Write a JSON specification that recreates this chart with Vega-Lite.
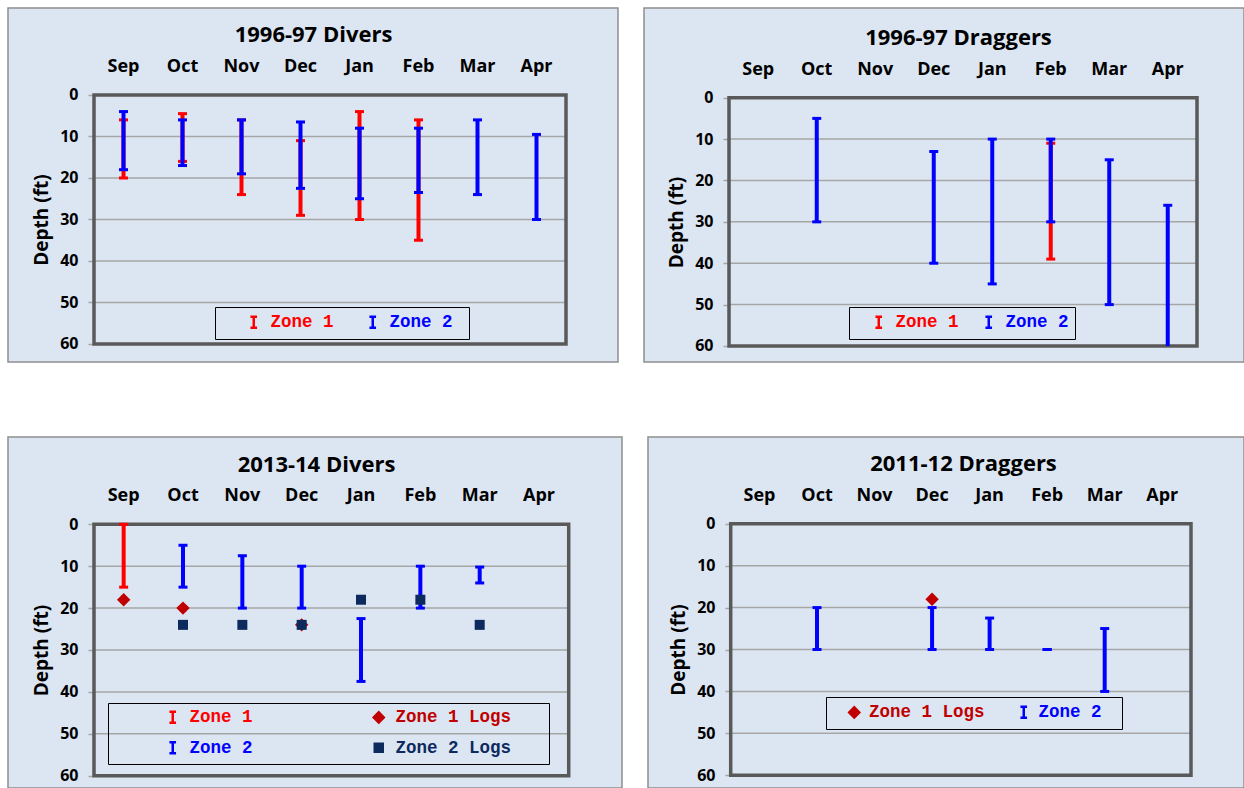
{
  "$schema": "https://vega.github.io/schema/vega-lite/v6.json",
  "background": "white",
  "padding": {"left": 7, "top": 7, "right": 0, "bottom": 0},
  "spacing": 73,
  "resolve": {"scale": {"x": "independent", "y": "independent", "color": "independent"}, "legend": {"color": "independent"}},
  "vconcat": [
    {
      "spacing": 24,
      "resolve": {"scale": {"x": "independent", "y": "independent", "color": "independent"}, "legend": {"color": "independent"}},
      "hconcat": [
        {
          "width": 610, "height": 354,
          "view": {"fill": "#DCE6F2", "stroke": "#8E8E8E", "strokeWidth": 1.5},
          "layer": [
            {
              "data": {"values": [{"depth": 10}, {"depth": 20}, {"depth": 30}, {"depth": 40}, {"depth": 50}]},
              "mark": {"type": "rule", "stroke": "#A6A6A6", "strokeWidth": 1.5},
              "encoding": {
                "x": {"datum": "Sep", "type": "nominal", "bandPosition": 0,
                  "scale": {"domain": [" ","Sep","Oct","Nov","Dec","Jan","Feb","Mar","Apr"], "paddingInner": 0, "paddingOuter": 0.6695, "align": 0.3418},
                  "axis": {"orient": "top", "offset": -58, "values": ["Sep","Oct","Nov","Dec","Jan","Feb","Mar","Apr"], "domain": false, "ticks": false, "grid": false, "labelPadding": 0, "labelBaseline": "middle", "labelAngle": 0, "labelFont": "Open Sans", "labelFontWeight": "bold", "labelFontSize": 18, "labelColor": "#000000", "labelOverlap": false, "title": "1996-97 Divers", "titleFont": "Open Sans", "titleFontWeight": "bold", "titleFontSize": 22, "titleColor": "#000000", "titlePadding": 11, "titleX": 305}},
                "x2": {"datum": "Apr", "bandPosition": 1},
                "y": {"field": "depth", "type": "quantitative",
                  "scale": {"domain": [-20.96, 64.34], "reverse": true, "nice": false, "zero": false},
                  "axis": {"orient": "left", "offset": -86, "values": [0,10,20,30,40,50,60], "domain": false, "ticks": true, "tickSize": 6, "tickColor": "#A6A6A6", "tickWidth": 1.5, "grid": false, "labelPadding": 10, "labelFont": "Open Sans", "labelFontWeight": "bold", "labelFontSize": 16, "labelColor": "#000000", "labelOverlap": false, "title": "Depth (ft)", "titleFont": "Open Sans", "titleFontWeight": "bold", "titleFontSize": 19, "titleColor": "#000000", "titlePadding": 8, "titleY": 211.5}}
              }
            },
            {
              "data": {"values": [{}]},
              "mark": {"type": "rect", "filled": false, "stroke": "#595959", "strokeWidth": 3.5},
              "encoding": {
                "x": {"datum": "Sep", "type": "nominal", "bandPosition": 0},
                "x2": {"datum": "Apr", "bandPosition": 1},
                "y": {"datum": 0, "type": "quantitative"},
                "y2": {"datum": 60}
              }
            },
            {
              "data": {"values": [
                {"month": "Sep", "series": "Zone 1", "lo": 6, "hi": 20},
                {"month": "Oct", "series": "Zone 1", "lo": 4.5, "hi": 16},
                {"month": "Nov", "series": "Zone 1", "lo": 6, "hi": 24},
                {"month": "Dec", "series": "Zone 1", "lo": 11, "hi": 29},
                {"month": "Jan", "series": "Zone 1", "lo": 4, "hi": 30},
                {"month": "Feb", "series": "Zone 1", "lo": 6, "hi": 35},
                {"month": "Sep", "series": "Zone 2", "lo": 4, "hi": 18},
                {"month": "Oct", "series": "Zone 2", "lo": 6, "hi": 17},
                {"month": "Nov", "series": "Zone 2", "lo": 6, "hi": 19},
                {"month": "Dec", "series": "Zone 2", "lo": 6.5, "hi": 22.5},
                {"month": "Jan", "series": "Zone 2", "lo": 8, "hi": 25},
                {"month": "Feb", "series": "Zone 2", "lo": 8, "hi": 23.5},
                {"month": "Mar", "series": "Zone 2", "lo": 6, "hi": 24},
                {"month": "Apr", "series": "Zone 2", "lo": 9.5, "hi": 30}
              ]},
              "encoding": {
                "x": {"field": "month", "type": "nominal"},
                "color": {"field": "series", "type": "nominal",
                  "scale": {"domain": ["Zone 1", "Zone 2"], "range": ["#FF0000", "#0000FF"]},
                  "legend": {"title": "W", "titleOrient": "right", "titleFont": "Liberation Mono", "titleFontSize": 10, "titleOpacity": 0, "titlePadding": 3, "orient": "none", "legendX": 207, "legendY": 299, "direction": "horizontal", "columns": 2, "strokeColor": "#000000", "padding": 6, "symbolOffset": 24, "labelOffset": 8, "columnPadding": 6, "rowPadding": 9, "labelFont": "Liberation Mono", "labelFontSize": 17.5, "labelFontWeight": "bold", "labelLimit": 400, "symbolSize": 121,
                    "encode": {
                      "symbols": {"update": {
                        "shape": {"signal": "indexof(datum.value,'Logs')>=0 ? (datum.value=='Zone 1 Logs' ? 'diamond' : 'square') : 'M-0.6,-1H0.6M0,-1V1M-0.6,1H0.6'"},
                        "fill": {"signal": "datum.value=='Zone 1 Logs' ? '#C00000' : datum.value=='Zone 2 Logs' ? '#0D2A5E' : 'transparent'"},
                        "stroke": {"signal": "datum.value=='Zone 1' ? '#FF0000' : datum.value=='Zone 2' ? '#0000FF' : 'transparent'"},
                        "strokeWidth": {"value": 2.5},
                        "size": {"signal": "datum.value=='Zone 1 Logs' ? 100 : datum.value=='Zone 2 Logs' ? 64 : 121"},
                        "opacity": {"value": 1}
                      }},
                      "labels": {"update": {"fill": {"signal": "datum.value=='Zone 1' ? '#FF0000' : datum.value=='Zone 2' ? '#0000FF' : datum.value=='Zone 1 Logs' ? '#C00000' : '#0D2A5E'"}}}
                    }}
                }
              },
              "layer": [
                {"transform": [{"filter": "datum.series == 'Zone 1'"}], "mark": {"type": "rule", "strokeWidth": 4}, "encoding": {"y": {"field": "lo", "type": "quantitative"}, "y2": {"field": "hi"}}},
                {"transform": [{"filter": "datum.series == 'Zone 1'"}], "mark": {"type": "tick", "thickness": 3, "size": 9, "opacity": 1}, "encoding": {"y": {"field": "lo", "type": "quantitative"}}},
                {"transform": [{"filter": "datum.series == 'Zone 1' && datum.hi < 60"}], "mark": {"type": "tick", "thickness": 3, "size": 9, "opacity": 1}, "encoding": {"y": {"field": "hi", "type": "quantitative"}}},
                {"transform": [{"filter": "datum.series == 'Zone 2'"}], "mark": {"type": "rule", "strokeWidth": 4}, "encoding": {"y": {"field": "lo", "type": "quantitative"}, "y2": {"field": "hi"}}},
                {"transform": [{"filter": "datum.series == 'Zone 2'"}], "mark": {"type": "tick", "thickness": 3, "size": 9, "opacity": 1}, "encoding": {"y": {"field": "lo", "type": "quantitative"}}},
                {"transform": [{"filter": "datum.series == 'Zone 2' && datum.hi < 60"}], "mark": {"type": "tick", "thickness": 3, "size": 9, "opacity": 1}, "encoding": {"y": {"field": "hi", "type": "quantitative"}}}
              ]
            }
          ]
        },
        {
          "width": 600, "height": 354,
          "view": {"fill": "#DCE6F2", "stroke": "#8E8E8E", "strokeWidth": 1.5},
          "layer": [
            {
              "data": {"values": [{"depth": 10}, {"depth": 20}, {"depth": 30}, {"depth": 40}, {"depth": 50}]},
              "mark": {"type": "rule", "stroke": "#A6A6A6", "strokeWidth": 1.5},
              "encoding": {
                "x": {"datum": "Sep", "type": "nominal", "bandPosition": 0,
                  "scale": {"domain": [" ","Sep","Oct","Nov","Dec","Jan","Feb","Mar","Apr"], "paddingInner": 0, "paddingOuter": 0.6282, "align": 0.3605},
                  "axis": {"orient": "top", "offset": -61, "values": ["Sep","Oct","Nov","Dec","Jan","Feb","Mar","Apr"], "domain": false, "ticks": false, "grid": false, "labelPadding": 0, "labelBaseline": "middle", "labelAngle": 0, "labelFont": "Open Sans", "labelFontWeight": "bold", "labelFontSize": 18, "labelColor": "#000000", "labelOverlap": false, "title": "1996-97 Draggers", "titleFont": "Open Sans", "titleFontWeight": "bold", "titleFontSize": 22, "titleColor": "#000000", "titlePadding": 11, "titleX": 314}},
                "x2": {"datum": "Apr", "bandPosition": 1},
                "y": {"field": "depth", "type": "quantitative",
                  "scale": {"domain": [-21.68, 63.87], "reverse": true, "nice": false, "zero": false},
                  "axis": {"orient": "left", "offset": -85, "values": [0,10,20,30,40,50,60], "domain": false, "ticks": true, "tickSize": 6, "tickColor": "#A6A6A6", "tickWidth": 1.5, "grid": false, "labelPadding": 10, "labelFont": "Open Sans", "labelFontWeight": "bold", "labelFontSize": 16, "labelColor": "#000000", "labelOverlap": false, "title": "Depth (ft)", "titleFont": "Open Sans", "titleFontWeight": "bold", "titleFontSize": 19, "titleColor": "#000000", "titlePadding": 8, "titleY": 214}}
              }
            },
            {
              "data": {"values": [{}]},
              "mark": {"type": "rect", "filled": false, "stroke": "#595959", "strokeWidth": 3.5},
              "encoding": {
                "x": {"datum": "Sep", "type": "nominal", "bandPosition": 0},
                "x2": {"datum": "Apr", "bandPosition": 1},
                "y": {"datum": 0, "type": "quantitative"},
                "y2": {"datum": 60}
              }
            },
            {
              "data": {"values": [
                {"month": "Feb", "series": "Zone 1", "lo": 11, "hi": 39},
                {"month": "Oct", "series": "Zone 2", "lo": 5, "hi": 30},
                {"month": "Dec", "series": "Zone 2", "lo": 13, "hi": 40},
                {"month": "Jan", "series": "Zone 2", "lo": 10, "hi": 45},
                {"month": "Feb", "series": "Zone 2", "lo": 10, "hi": 30},
                {"month": "Mar", "series": "Zone 2", "lo": 15, "hi": 50},
                {"month": "Apr", "series": "Zone 2", "lo": 26, "hi": 60}
              ]},
              "encoding": {
                "x": {"field": "month", "type": "nominal"},
                "color": {"field": "series", "type": "nominal",
                  "scale": {"domain": ["Zone 1", "Zone 2"], "range": ["#FF0000", "#0000FF"]},
                  "legend": {"title": null, "orient": "none", "legendX": 205, "legendY": 299, "direction": "horizontal", "columns": 2, "strokeColor": "#000000", "padding": 6, "symbolOffset": 15, "labelOffset": 8, "columnPadding": 6, "rowPadding": 9, "labelFont": "Liberation Mono", "labelFontSize": 17.5, "labelFontWeight": "bold", "labelLimit": 400, "symbolSize": 121,
                    "encode": {
                      "symbols": {"update": {
                        "shape": {"signal": "indexof(datum.value,'Logs')>=0 ? (datum.value=='Zone 1 Logs' ? 'diamond' : 'square') : 'M-0.6,-1H0.6M0,-1V1M-0.6,1H0.6'"},
                        "fill": {"signal": "datum.value=='Zone 1 Logs' ? '#C00000' : datum.value=='Zone 2 Logs' ? '#0D2A5E' : 'transparent'"},
                        "stroke": {"signal": "datum.value=='Zone 1' ? '#FF0000' : datum.value=='Zone 2' ? '#0000FF' : 'transparent'"},
                        "strokeWidth": {"value": 2.5},
                        "size": {"signal": "datum.value=='Zone 1 Logs' ? 100 : datum.value=='Zone 2 Logs' ? 64 : 121"},
                        "opacity": {"value": 1}
                      }},
                      "labels": {"update": {"fill": {"signal": "datum.value=='Zone 1' ? '#FF0000' : datum.value=='Zone 2' ? '#0000FF' : datum.value=='Zone 1 Logs' ? '#C00000' : '#0D2A5E'"}}}
                    }}
                }
              },
              "layer": [
                {"transform": [{"filter": "datum.series == 'Zone 1'"}], "mark": {"type": "rule", "strokeWidth": 4}, "encoding": {"y": {"field": "lo", "type": "quantitative"}, "y2": {"field": "hi"}}},
                {"transform": [{"filter": "datum.series == 'Zone 1'"}], "mark": {"type": "tick", "thickness": 3, "size": 9, "opacity": 1}, "encoding": {"y": {"field": "lo", "type": "quantitative"}}},
                {"transform": [{"filter": "datum.series == 'Zone 1' && datum.hi < 60"}], "mark": {"type": "tick", "thickness": 3, "size": 9, "opacity": 1}, "encoding": {"y": {"field": "hi", "type": "quantitative"}}},
                {"transform": [{"filter": "datum.series == 'Zone 2'"}], "mark": {"type": "rule", "strokeWidth": 4}, "encoding": {"y": {"field": "lo", "type": "quantitative"}, "y2": {"field": "hi"}}},
                {"transform": [{"filter": "datum.series == 'Zone 2'"}], "mark": {"type": "tick", "thickness": 3, "size": 9, "opacity": 1}, "encoding": {"y": {"field": "lo", "type": "quantitative"}}},
                {"transform": [{"filter": "datum.series == 'Zone 2' && datum.hi < 60"}], "mark": {"type": "tick", "thickness": 3, "size": 9, "opacity": 1}, "encoding": {"y": {"field": "hi", "type": "quantitative"}}}
              ]
            }
          ]
        }
      ]
    },
    {
      "spacing": 24,
      "resolve": {"scale": {"x": "independent", "y": "independent", "color": "independent"}, "legend": {"color": "independent"}},
      "hconcat": [
        {
          "width": 614, "height": 351,
          "view": {"fill": "#DCE6F2", "stroke": "#8E8E8E", "strokeWidth": 1.5},
          "layer": [
            {
              "data": {"values": [{"depth": 10}, {"depth": 20}, {"depth": 30}, {"depth": 40}, {"depth": 50}]},
              "mark": {"type": "rule", "stroke": "#A6A6A6", "strokeWidth": 1.5},
              "encoding": {
                "x": {"datum": "Sep", "type": "nominal", "bandPosition": 0,
                  "scale": {"domain": [" ","Sep","Oct","Nov","Dec","Jan","Feb","Mar","Apr"], "paddingInner": 0, "paddingOuter": 0.6737, "align": 0.3334},
                  "axis": {"orient": "top", "offset": -58, "values": ["Sep","Oct","Nov","Dec","Jan","Feb","Mar","Apr"], "domain": false, "ticks": false, "grid": false, "labelPadding": 0, "labelBaseline": "middle", "labelAngle": 0, "labelFont": "Open Sans", "labelFontWeight": "bold", "labelFontSize": 18, "labelColor": "#000000", "labelOverlap": false, "title": "2013-14 Divers", "titleFont": "Open Sans", "titleFontWeight": "bold", "titleFontSize": 22, "titleColor": "#000000", "titlePadding": 10, "titleX": 308}},
                "x2": {"datum": "Apr", "bandPosition": 1},
                "y": {"field": "depth", "type": "quantitative",
                  "scale": {"domain": [-20.84, 62.94], "reverse": true, "nice": false, "zero": false},
                  "axis": {"orient": "left", "offset": -86, "values": [0,10,20,30,40,50,60], "domain": false, "ticks": true, "tickSize": 6, "tickColor": "#A6A6A6", "tickWidth": 1.5, "grid": false, "labelPadding": 10, "labelFont": "Open Sans", "labelFontWeight": "bold", "labelFontSize": 16, "labelColor": "#000000", "labelOverlap": false, "title": "Depth (ft)", "titleFont": "Open Sans", "titleFontWeight": "bold", "titleFontSize": 19, "titleColor": "#000000", "titlePadding": 8, "titleY": 213}}
              }
            },
            {
              "data": {"values": [{}]},
              "mark": {"type": "rect", "filled": false, "stroke": "#595959", "strokeWidth": 3.5},
              "encoding": {
                "x": {"datum": "Sep", "type": "nominal", "bandPosition": 0},
                "x2": {"datum": "Apr", "bandPosition": 1},
                "y": {"datum": 0, "type": "quantitative"},
                "y2": {"datum": 60}
              }
            },
            {
              "data": {"values": [
                {"month": "Sep", "series": "Zone 1", "lo": 0, "hi": 15},
                {"month": "Oct", "series": "Zone 2", "lo": 5, "hi": 15},
                {"month": "Nov", "series": "Zone 2", "lo": 7.5, "hi": 20},
                {"month": "Dec", "series": "Zone 2", "lo": 10, "hi": 20},
                {"month": "Jan", "series": "Zone 2", "lo": 22.5, "hi": 37.5},
                {"month": "Feb", "series": "Zone 2", "lo": 10, "hi": 20},
                {"month": "Mar", "series": "Zone 2", "lo": 10.2, "hi": 14},
                {"month": "Sep", "series": "Zone 1 Logs", "depth": 18},
                {"month": "Oct", "series": "Zone 1 Logs", "depth": 20},
                {"month": "Dec", "series": "Zone 1 Logs", "depth": 24},
                {"month": "Oct", "series": "Zone 2 Logs", "depth": 24},
                {"month": "Nov", "series": "Zone 2 Logs", "depth": 24},
                {"month": "Dec", "series": "Zone 2 Logs", "depth": 24},
                {"month": "Jan", "series": "Zone 2 Logs", "depth": 18},
                {"month": "Feb", "series": "Zone 2 Logs", "depth": 18},
                {"month": "Mar", "series": "Zone 2 Logs", "depth": 24}
              ]},
              "encoding": {
                "x": {"field": "month", "type": "nominal"},
                "color": {"field": "series", "type": "nominal",
                  "scale": {"domain": ["Zone 1", "Zone 1 Logs", "Zone 2", "Zone 2 Logs"], "range": ["#FF0000", "#C00000", "#0000FF", "#0D2A5E"]},
                  "legend": {"title": "WWW", "titleOrient": "right", "titleFont": "Liberation Mono", "titleFontSize": 15, "titleOpacity": 0, "titlePadding": 5, "orient": "none", "legendX": 100, "legendY": 266, "direction": "horizontal", "columns": 2, "strokeColor": "#000000", "padding": 5, "symbolOffset": 51, "labelOffset": 8, "columnPadding": 66, "rowPadding": 9, "labelFont": "Liberation Mono", "labelFontSize": 17.5, "labelFontWeight": "bold", "labelLimit": 400, "symbolSize": 121,
                    "encode": {
                      "symbols": {"update": {
                        "shape": {"signal": "indexof(datum.value,'Logs')>=0 ? (datum.value=='Zone 1 Logs' ? 'diamond' : 'square') : 'M-0.6,-1H0.6M0,-1V1M-0.6,1H0.6'"},
                        "fill": {"signal": "datum.value=='Zone 1 Logs' ? '#C00000' : datum.value=='Zone 2 Logs' ? '#0D2A5E' : 'transparent'"},
                        "stroke": {"signal": "datum.value=='Zone 1' ? '#FF0000' : datum.value=='Zone 2' ? '#0000FF' : 'transparent'"},
                        "strokeWidth": {"value": 2.5},
                        "size": {"signal": "datum.value=='Zone 1 Logs' ? 100 : datum.value=='Zone 2 Logs' ? 64 : 121"},
                        "opacity": {"value": 1}
                      }},
                      "labels": {"update": {"fill": {"signal": "datum.value=='Zone 1' ? '#FF0000' : datum.value=='Zone 2' ? '#0000FF' : datum.value=='Zone 1 Logs' ? '#C00000' : '#0D2A5E'"}}}
                    }}
                }
              },
              "layer": [
                {"transform": [{"filter": "datum.series == 'Zone 1'"}], "mark": {"type": "rule", "strokeWidth": 4}, "encoding": {"y": {"field": "lo", "type": "quantitative"}, "y2": {"field": "hi"}}},
                {"transform": [{"filter": "datum.series == 'Zone 1'"}], "mark": {"type": "tick", "thickness": 3, "size": 9, "opacity": 1}, "encoding": {"y": {"field": "lo", "type": "quantitative"}}},
                {"transform": [{"filter": "datum.series == 'Zone 1' && datum.hi < 60"}], "mark": {"type": "tick", "thickness": 3, "size": 9, "opacity": 1}, "encoding": {"y": {"field": "hi", "type": "quantitative"}}},
                {"transform": [{"filter": "datum.series == 'Zone 2'"}], "mark": {"type": "rule", "strokeWidth": 4}, "encoding": {"y": {"field": "lo", "type": "quantitative"}, "y2": {"field": "hi"}}},
                {"transform": [{"filter": "datum.series == 'Zone 2'"}], "mark": {"type": "tick", "thickness": 3, "size": 9, "opacity": 1}, "encoding": {"y": {"field": "lo", "type": "quantitative"}}},
                {"transform": [{"filter": "datum.series == 'Zone 2' && datum.hi < 60"}], "mark": {"type": "tick", "thickness": 3, "size": 9, "opacity": 1}, "encoding": {"y": {"field": "hi", "type": "quantitative"}}},
                {"transform": [{"filter": "datum.series == 'Zone 1 Logs'"}], "mark": {"type": "point", "shape": "diamond", "filled": true, "size": 180, "opacity": 1}, "encoding": {"y": {"field": "depth", "type": "quantitative"}}},
                {"transform": [{"filter": "datum.series == 'Zone 2 Logs'"}], "mark": {"type": "point", "shape": "square", "filled": true, "size": 100, "opacity": 1}, "encoding": {"y": {"field": "depth", "type": "quantitative"}}}
              ]
            }
          ]
        },
        {
          "width": 596, "height": 351,
          "view": {"fill": "#DCE6F2", "stroke": "#8E8E8E", "strokeWidth": 1.5},
          "layer": [
            {
              "data": {"values": [{"depth": 10}, {"depth": 20}, {"depth": 30}, {"depth": 40}, {"depth": 50}]},
              "mark": {"type": "rule", "stroke": "#A6A6A6", "strokeWidth": 1.5},
              "encoding": {
                "x": {"datum": "Sep", "type": "nominal", "bandPosition": 0,
                  "scale": {"domain": [" ","Sep","Oct","Nov","Dec","Jan","Feb","Mar","Apr"], "paddingInner": 0, "paddingOuter": 0.6792, "align": 0.3219},
                  "axis": {"orient": "top", "offset": -58, "values": ["Sep","Oct","Nov","Dec","Jan","Feb","Mar","Apr"], "domain": false, "ticks": false, "grid": false, "labelPadding": 0, "labelBaseline": "middle", "labelAngle": 0, "labelFont": "Open Sans", "labelFontWeight": "bold", "labelFontSize": 18, "labelColor": "#000000", "labelOverlap": false, "title": "2011-12 Draggers", "titleFont": "Open Sans", "titleFontWeight": "bold", "titleFontSize": 22, "titleColor": "#000000", "titlePadding": 11, "titleX": 315}},
                "x2": {"datum": "Apr", "bandPosition": 1},
                "y": {"field": "depth", "type": "quantitative",
                  "scale": {"domain": [-20.68, 63.03], "reverse": true, "nice": false, "zero": false},
                  "axis": {"orient": "left", "offset": -83, "values": [0,10,20,30,40,50,60], "domain": false, "ticks": true, "tickSize": 6, "tickColor": "#A6A6A6", "tickWidth": 1.5, "grid": false, "labelPadding": 10, "labelFont": "Open Sans", "labelFontWeight": "bold", "labelFontSize": 16, "labelColor": "#000000", "labelOverlap": false, "title": "Depth (ft)", "titleFont": "Open Sans", "titleFontWeight": "bold", "titleFontSize": 19, "titleColor": "#000000", "titlePadding": 8, "titleY": 212.5}}
              }
            },
            {
              "data": {"values": [{}]},
              "mark": {"type": "rect", "filled": false, "stroke": "#595959", "strokeWidth": 3.5},
              "encoding": {
                "x": {"datum": "Sep", "type": "nominal", "bandPosition": 0},
                "x2": {"datum": "Apr", "bandPosition": 1},
                "y": {"datum": 0, "type": "quantitative"},
                "y2": {"datum": 60}
              }
            },
            {
              "data": {"values": [
                {"month": "Oct", "series": "Zone 2", "lo": 20, "hi": 30},
                {"month": "Dec", "series": "Zone 2", "lo": 20, "hi": 30},
                {"month": "Jan", "series": "Zone 2", "lo": 22.5, "hi": 30},
                {"month": "Feb", "series": "Zone 2", "lo": 30, "hi": 30},
                {"month": "Mar", "series": "Zone 2", "lo": 25, "hi": 40},
                {"month": "Dec", "series": "Zone 1 Logs", "depth": 18}
              ]},
              "encoding": {
                "x": {"field": "month", "type": "nominal"},
                "color": {"field": "series", "type": "nominal",
                  "scale": {"domain": ["Zone 1 Logs", "Zone 2"], "range": ["#C00000", "#0000FF"]},
                  "legend": {"title": "W", "titleOrient": "right", "titleFont": "Liberation Mono", "titleFontSize": 16, "titleOpacity": 0, "titlePadding": 4, "orient": "none", "legendX": 178, "legendY": 260, "direction": "horizontal", "columns": 2, "strokeColor": "#000000", "padding": 6, "symbolOffset": 13.5, "labelOffset": 6, "columnPadding": 16.5, "rowPadding": 9, "labelFont": "Liberation Mono", "labelFontSize": 17.5, "labelFontWeight": "bold", "labelLimit": 400, "symbolSize": 121,
                    "encode": {
                      "symbols": {"update": {
                        "shape": {"signal": "indexof(datum.value,'Logs')>=0 ? (datum.value=='Zone 1 Logs' ? 'diamond' : 'square') : 'M-0.6,-1H0.6M0,-1V1M-0.6,1H0.6'"},
                        "fill": {"signal": "datum.value=='Zone 1 Logs' ? '#C00000' : datum.value=='Zone 2 Logs' ? '#0D2A5E' : 'transparent'"},
                        "stroke": {"signal": "datum.value=='Zone 1' ? '#FF0000' : datum.value=='Zone 2' ? '#0000FF' : 'transparent'"},
                        "strokeWidth": {"value": 2.5},
                        "size": {"signal": "datum.value=='Zone 1 Logs' ? 100 : datum.value=='Zone 2 Logs' ? 64 : 121"},
                        "opacity": {"value": 1}
                      }},
                      "labels": {"update": {"fill": {"signal": "datum.value=='Zone 1' ? '#FF0000' : datum.value=='Zone 2' ? '#0000FF' : datum.value=='Zone 1 Logs' ? '#C00000' : '#0D2A5E'"}}}
                    }}
                }
              },
              "layer": [
                {"transform": [{"filter": "datum.series == 'Zone 2'"}], "mark": {"type": "rule", "strokeWidth": 4}, "encoding": {"y": {"field": "lo", "type": "quantitative"}, "y2": {"field": "hi"}}},
                {"transform": [{"filter": "datum.series == 'Zone 2'"}], "mark": {"type": "tick", "thickness": 3, "size": 9, "opacity": 1}, "encoding": {"y": {"field": "lo", "type": "quantitative"}}},
                {"transform": [{"filter": "datum.series == 'Zone 2' && datum.hi < 60"}], "mark": {"type": "tick", "thickness": 3, "size": 9, "opacity": 1}, "encoding": {"y": {"field": "hi", "type": "quantitative"}}},
                {"transform": [{"filter": "datum.series == 'Zone 1 Logs'"}], "mark": {"type": "point", "shape": "diamond", "filled": true, "size": 180, "opacity": 1}, "encoding": {"y": {"field": "depth", "type": "quantitative"}}}
              ]
            }
          ]
        }
      ]
    }
  ]
}
